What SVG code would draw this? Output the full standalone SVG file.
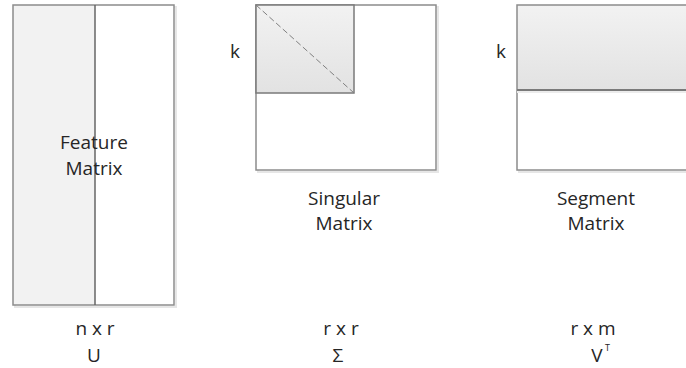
<svg xmlns="http://www.w3.org/2000/svg" width="686" height="368" viewBox="0 0 686 368">
<style>
text{font-family:"Open Sans","Liberation Sans",sans-serif;font-size:19px;fill:#262626;text-anchor:middle}
.sh{fill:none;stroke:#e6e6e6;stroke-width:2}
.box{fill:none;stroke:#8c8c8c;stroke-width:1.5}
</style>
<defs>
<linearGradient id="g" x1="0" y1="0" x2="0" y2="1">
<stop offset="0" stop-color="#f2f2f2"/>
<stop offset="1" stop-color="#e2e2e2"/>
</linearGradient>
</defs>
<rect width="686" height="368" fill="#ffffff"/>
<g id="feature-matrix">
<rect class="sh" x="15" y="7" width="161" height="300"/>
<rect x="13" y="5" width="82" height="300" fill="#f2f2f2"/>
<rect x="95" y="5" width="79" height="300" fill="#ffffff"/>
<rect class="box" x="13" y="5" width="161" height="300"/>
<line x1="95" y1="5" x2="95" y2="305" stroke="#666666" stroke-width="1.5"/>
<text x="94" y="149">Feature</text>
<text x="94" y="175">Matrix</text>
<text x="95" y="335">n x r</text>
<text x="94" y="362">U</text>
</g>
<g id="singular-matrix">
<rect class="sh" x="258" y="7" width="180" height="165"/>
<rect x="256" y="5" width="180" height="165" fill="#ffffff"/>
<rect class="box" x="256" y="5" width="180" height="165"/>
<rect x="256" y="5" width="98" height="88" fill="url(#g)" stroke="#7a7a7a" stroke-width="1.5"/>
<line x1="256" y1="5" x2="354" y2="93" stroke="#808080" stroke-width="1" stroke-dasharray="6,3"/>
<text x="235" y="58">k</text>
<text x="344" y="205">Singular</text>
<text x="344" y="230">Matrix</text>
<text x="341" y="335">r x r</text>
<text x="338" y="362">Σ</text>
</g>
<g id="segment-matrix">
<rect class="sh" x="519" y="7" width="190" height="165"/>
<rect x="517" y="5" width="190" height="165" fill="#ffffff"/>
<rect x="517" y="5" width="190" height="85" fill="url(#g)"/>
<rect class="box" x="517" y="5" width="190" height="165"/>
<line x1="517" y1="90" x2="686" y2="90" stroke="#7a7a7a" stroke-width="2"/>
<line x1="517" y1="92" x2="686" y2="92" stroke="#ececec" stroke-width="2"/>
<text x="501" y="58">k</text>
<text x="596" y="205">Segment</text>
<text x="596" y="230">Matrix</text>
<text x="593" y="335">r x m</text>
<text x="597" y="362">V</text>
<text x="605" y="351" style="font-size:9px;text-anchor:start">T</text>
</g>
<g id="connectors"></g>
</svg>
